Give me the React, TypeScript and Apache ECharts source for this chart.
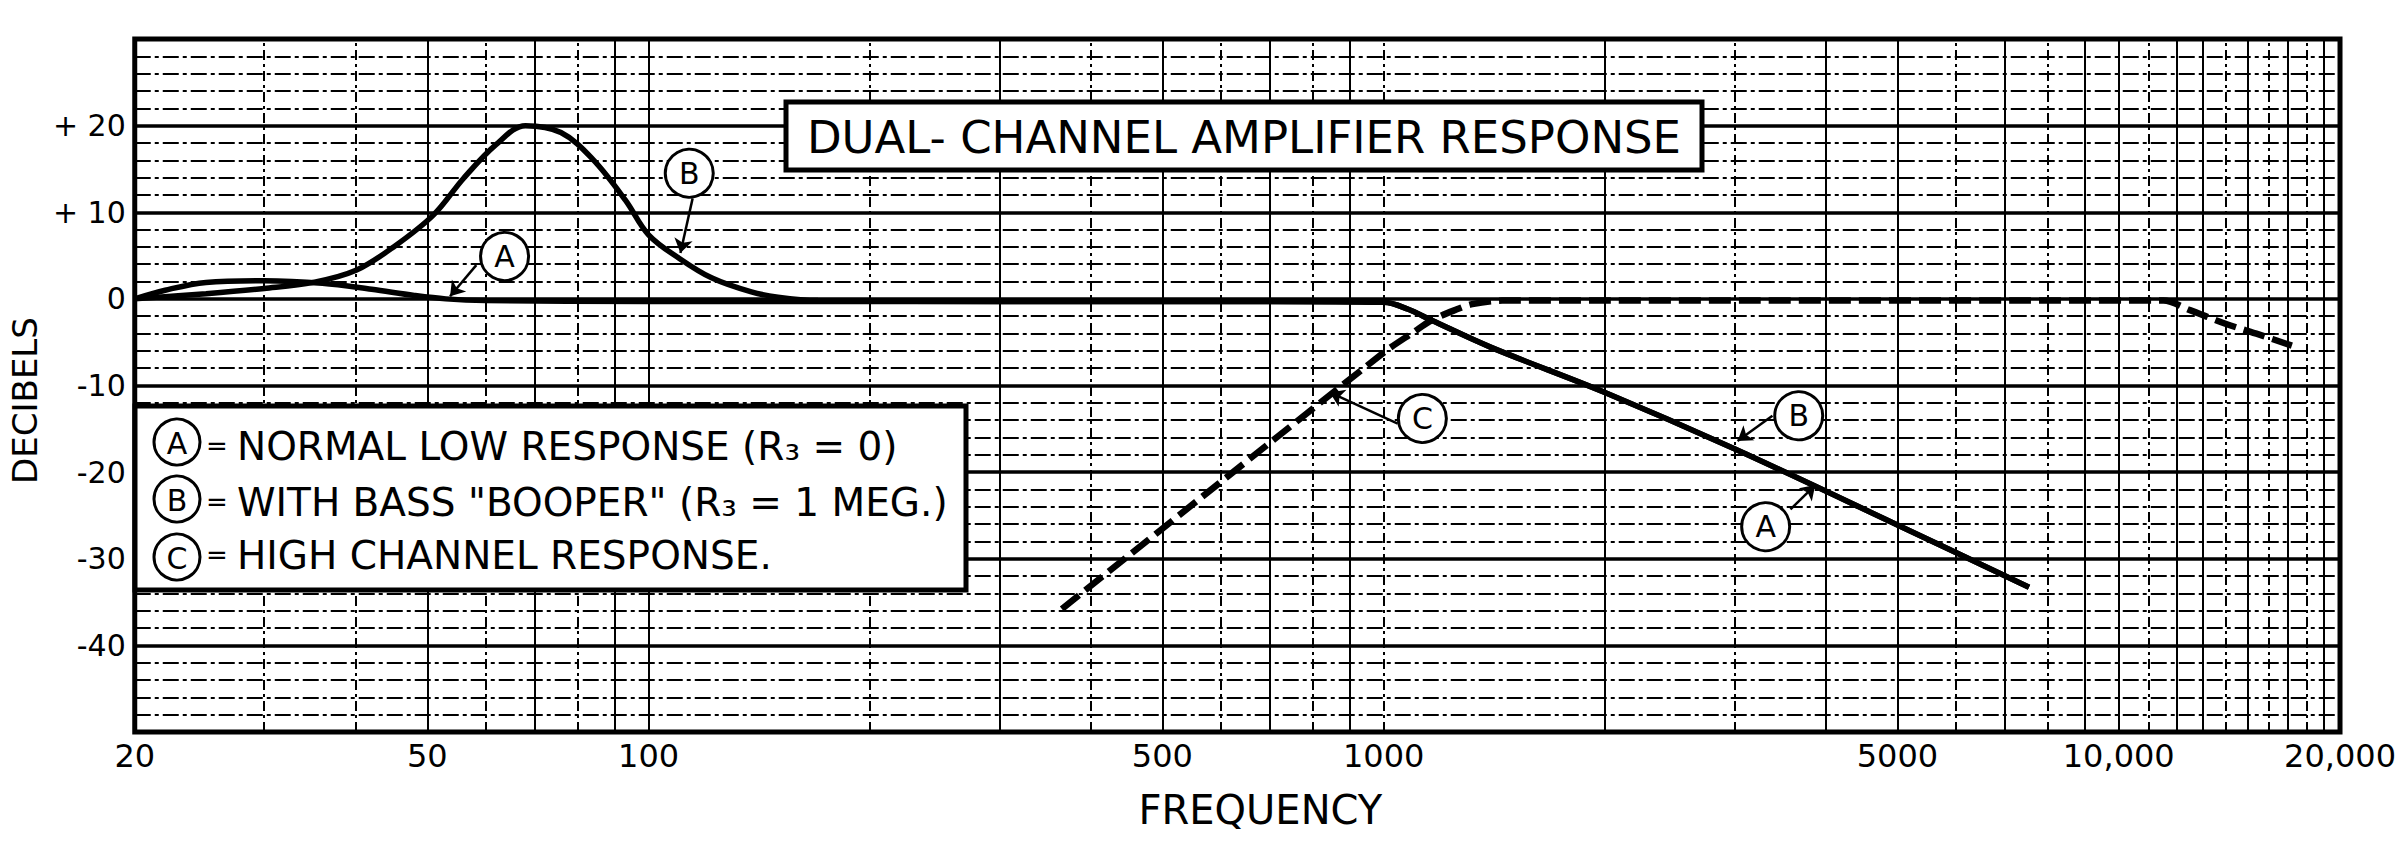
import React, { useEffect, useRef } from "react";
import * as echarts from "echarts";

// ---- data (frequency in Hz, level in dB) ----
const freqLabels = [20, 50, 100, 500, 1000, 5000, 10000, 20000];
const gridFreqSolid = [50, 70, 90, 100, 300, 500, 700, 900, 2000, 4000, 5000, 7000, 9000, 10000, 12000, 13000, 15000, 17000, 19000];
const gridFreqDashed = [30, 40, 60, 80, 200, 400, 600, 800, 1000, 3000, 6000, 8000, 11000, 14000, 16000, 18000];

// shared high-frequency roll-off of curves A and B
const rolloffFreq = [300, 700, 1000, 1080, 1164, 1400, 2000, 3000, 5000, 7550];
const rolloffDb = [-0.3, -0.3, -0.4, -1.2, -2.5, -5.6, -10.8, -17.3, -26.1, -33.3];

const curveALowFreq = [20, 22, 25, 30, 36, 42, 48, 53, 60, 100];
const curveALowDb = [0, 1.0, 1.9, 2.1, 1.8, 1.1, 0.4, 0, -0.2, -0.3];

const curveBLowFreq = [20, 25, 30, 35, 40, 45, 51, 56, 62, 68, 76, 84, 93, 100, 110, 122, 138, 150, 170];
const curveBLowDb = [0, 0.6, 1.2, 1.9, 3.3, 6.0, 9.7, 13.9, 17.8, 20, 19.2, 16.1, 11.4, 7.4, 4.7, 2.4, 0.8, 0.2, -0.2];

const curveCFreq = [365, 1000, 1100, 1160, 1250, 1320, 1450, 2000, 11500, 12500, 14000, 15500, 17200];
const curveCDb = [-35.8, -6.2, -3.8, -2.5, -1.3, -0.6, -0.2, -0.2, -0.2, -1.3, -2.9, -4.1, -5.4];

// circled curve identifiers and their arrows
const markerLetters = ["A", "B", "C", "B", "A"];
const markerFreq = [63.7, 113.6, 1129, 3670, 3309];
const markerDb = [4.9, 14.5, -13.8, -13.5, -26.3];
const arrowFromFreq = [58.3, 114.8, 1045, 3380, 3576];
const arrowFromDb = [3.9, 11.6, -14.4, -13.5, -24.3];
const arrowToFreq = [53.7, 110.5, 845, 3030, 3865];
const arrowToDb = [0.3, 5.3, -10.8, -16.4, -21.5];

const legendLetters = ["A", "B", "C"];
const legendTexts = [
  "NORMAL LOW RESPONSE (R\u2083 = 0)",
  "WITH BASS \"BOOPER\" (R\u2083 = 1 MEG.)",
  "HIGH CHANNEL RESPONSE.",
];
const titleText = "DUAL- CHANNEL AMPLIFIER RESPONSE";

const FONT = '"DejaVu Sans", "Liberation Sans", sans-serif';

const zip = (xs: number[], ys: number[]) => xs.map((x, i) => [x, ys[i]]);

function fmtFreq(v: number) {
  const n = Math.round(v);
  return n >= 10000 ? n.toLocaleString("en-US") : String(n);
}

function fmtDb(v: number) {
  if (v >= 30 || v <= -50) return "";
  if (v > 0) return "+ " + v;
  return String(v);
}

export default function App() {
  const ref = useRef<HTMLDivElement>(null);

  useEffect(() => {
    if (!ref.current) return;
    const chart = echarts.init(ref.current, null, { renderer: "svg" });

    const curveA = zip(curveALowFreq.concat(rolloffFreq), curveALowDb.concat(rolloffDb));
    const curveB = zip(curveBLowFreq.concat(rolloffFreq), curveBLowDb.concat(rolloffDb));
    const curveC = zip(curveCFreq, curveCDb);

    const verticalGrid = [
      ...gridFreqSolid.map((f) => ({ xAxis: f, lineStyle: { color: "#000", width: 2, type: "solid" } })),
      ...gridFreqDashed.map((f) => ({ xAxis: f, lineStyle: { color: "#000", width: 2, type: [10, 4, 3, 4] } })),
    ];

    const arrows = markerLetters.map((_, i) => [
      { coord: [arrowFromFreq[i], arrowFromDb[i]] },
      { coord: [arrowToFreq[i], arrowToDb[i]] },
    ]);

    const legendRowY = [446, 502, 555];
    const legendCircleY = [442, 499, 557];

    const graphic: any[] = [
      {
        type: "rect",
        z: 10,
        shape: { x: 786, y: 102, width: 916, height: 68 },
        style: { fill: "#fff", stroke: "#000", lineWidth: 5 },
      },
      {
        type: "text",
        z: 11,
        x: 1244,
        y: 137,
        style: { text: titleText, font: `45px ${FONT}`, fill: "#000", align: "center", verticalAlign: "middle" },
      },
      {
        type: "rect",
        z: 10,
        shape: { x: 135, y: 406, width: 831, height: 184 },
        style: { fill: "#fff", stroke: "#000", lineWidth: 5 },
      },
    ];
    legendLetters.forEach((letter, i) => {
      graphic.push({
        type: "circle",
        z: 11,
        shape: { cx: 177, cy: legendCircleY[i], r: 23 },
        style: { fill: "#fff", stroke: "#000", lineWidth: 3 },
      });
      graphic.push({
        type: "text",
        z: 12,
        x: 177,
        y: legendCircleY[i] + 1,
        style: { text: letter, font: `30px ${FONT}`, fill: "#000", align: "center", verticalAlign: "middle" },
      });
      graphic.push({
        type: "text",
        z: 12,
        x: 217,
        y: legendRowY[i],
        style: { text: "=", font: `26px ${FONT}`, fill: "#000", align: "center", verticalAlign: "middle" },
      });
      graphic.push({
        type: "text",
        z: 12,
        x: 237,
        y: legendRowY[i],
        style: { text: legendTexts[i], font: `39px ${FONT}`, fill: "#000", align: "left", verticalAlign: "middle" },
      });
    });

    const option: any = {
      animation: false,
      backgroundColor: "#fff",
      textStyle: { fontFamily: FONT, color: "#000" },
      grid: {
        left: 117,
        right: 58,
        top: 39,
        bottom: 113,
        show: true,
        borderColor: "#000",
        borderWidth: 5,
        containLabel: false,
      },
      xAxis: {
        type: "log",
        logBase: 10,
        min: 20,
        max: 20000,
        axisLine: { show: false },
        axisTick: { show: false },
        splitLine: { show: false },
        minorSplitLine: { show: false },
        axisLabel: {
          customValues: freqLabels,
          formatter: (v: number) => fmtFreq(v),
          fontSize: 32,
          fontFamily: FONT,
          color: "#000",
          margin: 8,
          hideOverlap: false,
          showMinLabel: true,
          showMaxLabel: true,
        },
        name: "FREQUENCY",
        nameLocation: "middle",
        nameGap: 58,
        nameTextStyle: { fontSize: 40, fontFamily: FONT, color: "#000", padding: [0, 0, 0, 46] },
      },
      yAxis: {
        type: "value",
        min: -50,
        max: 30,
        interval: 10,
        axisLine: { show: false },
        axisTick: { show: false },
        axisLabel: {
          formatter: (v: number) => fmtDb(v),
          fontSize: 30,
          fontFamily: FONT,
          color: "#000",
          margin: 9,
        },
        splitLine: { show: true, lineStyle: { color: "#000", width: 3.5 } },
        minorTick: { show: false, splitNumber: 5 },
        minorSplitLine: { show: true, lineStyle: { color: "#000", width: 2, type: [16, 4, 4, 4] } },
        name: "DECIBELS",
        nameLocation: "middle",
        nameRotate: 90,
        nameGap: 56,
        nameTextStyle: { fontSize: 34, fontFamily: FONT, color: "#000", padding: [0, 30, 0, 0] },
      },
      graphic,
      series: [
        {
          name: "grid",
          type: "line",
          z: 1,
          silent: true,
          data: [[20, -50]],
          symbol: "none",
          lineStyle: { width: 0, opacity: 0 },
          markLine: {
            silent: true,
            symbol: ["none", "none"],
            label: { show: false },
            emphasis: { disabled: true },
            data: verticalGrid,
          },
        },
        {
          name: "A",
          type: "line",
          z: 3,
          data: curveA,
          symbol: "none",
          smooth: 0.35,
          lineStyle: { color: "#000", width: 5.5 },
          emphasis: { disabled: true },
        },
        {
          name: "B",
          type: "line",
          z: 3,
          data: curveB,
          symbol: "none",
          smooth: 0.35,
          lineStyle: { color: "#000", width: 5.5 },
          emphasis: { disabled: true },
        },
        {
          name: "C",
          type: "line",
          z: 3,
          data: curveC,
          symbol: "none",
          smooth: 0.3,
          lineStyle: { color: "#000", width: 6.5, type: [22, 8] },
          emphasis: { disabled: true },
        },
        {
          name: "labels",
          type: "scatter",
          z: 5,
          data: markerFreq.map((f, i) => [f, markerDb[i], markerLetters[i]]),
          symbol: "circle",
          symbolSize: 48,
          itemStyle: { color: "#fff", borderColor: "#000", borderWidth: 3, opacity: 1 },
          label: {
            show: true,
            position: "inside",
            formatter: (p: any) => p.value[2],
            fontSize: 30,
            fontFamily: FONT,
            color: "#000",
          },
          emphasis: { disabled: true },
          markLine: {
            silent: true,
            symbol: ["none", "arrow"],
            symbolSize: 14,
            label: { show: false },
            lineStyle: { color: "#000", width: 2.5, type: "solid" },
            emphasis: { disabled: true },
            data: arrows,
          },
        },
      ],
    };

    chart.setOption(option);
    return () => chart.dispose();
  }, []);

  return (
    <div
      ref={ref}
      style={{ position: "absolute", left: 0, top: 0, width: 2399, height: 845, background: "#fff" }}
    />
  );
}
